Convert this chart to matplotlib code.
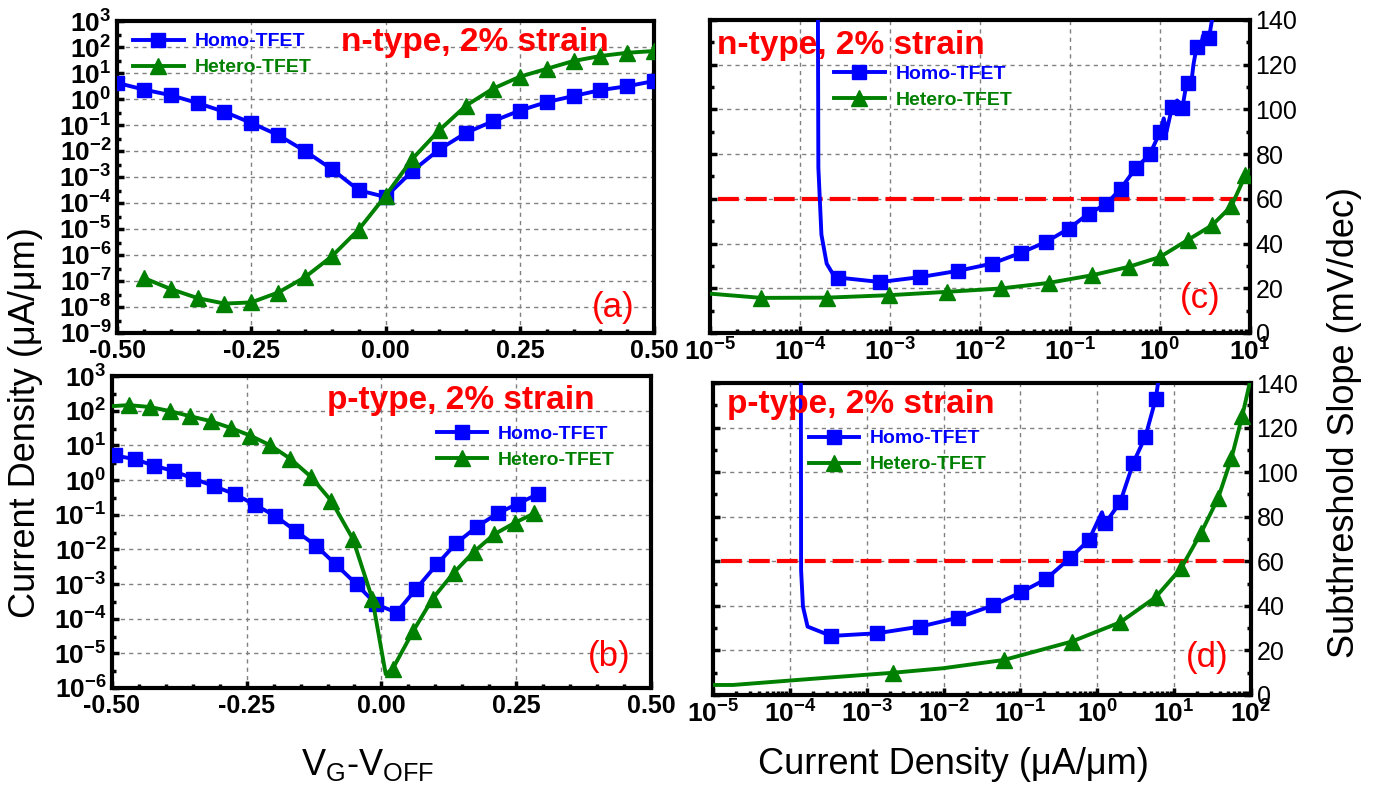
import numpy as np
import matplotlib
matplotlib.use('Agg')
import matplotlib.pyplot as plt
from matplotlib.ticker import FuncFormatter, LogLocator, MultipleLocator, NullFormatter

plt.rcParams['font.family'] = ['Liberation Sans', 'DejaVu Sans']
plt.rcParams['mathtext.fontset'] = 'custom'
plt.rcParams['mathtext.rm'] = 'Liberation Sans'
plt.rcParams['mathtext.bf'] = 'Liberation Sans:bold'
plt.rcParams['mathtext.it'] = 'Liberation Sans:italic'

# ---------------- data ----------------
# (a) n-type transfer curves
a_v_homo = [-0.50, -0.45, -0.40, -0.35, -0.30, -0.25, -0.20, -0.15, -0.10, -0.05, 0.00,
            0.05, 0.10, 0.15, 0.20, 0.25, 0.30, 0.35, 0.40, 0.45, 0.50]
a_i_homo = [4.2, 2.3, 1.4, 0.7, 0.32, 0.12, 0.041, 0.010, 0.002, 3.1e-4, 1.7e-4,
            1.7e-3, 0.0115, 0.05, 0.14, 0.36, 0.76, 1.3, 2.2, 3.1, 4.9]
a_v_het = [-0.45, -0.40, -0.35, -0.30, -0.25, -0.20, -0.15, -0.10, -0.05, 0.00,
           0.05, 0.10, 0.15, 0.20, 0.25, 0.30, 0.35, 0.40, 0.45, 0.50]
a_i_het = [1.3e-7, 4.9e-8, 2.2e-8, 1.35e-8, 1.5e-8, 3.6e-8, 1.4e-7, 8.9e-7, 9.5e-6, 1.9e-4,
           5e-3, 0.063, 0.56, 2.5, 7.2, 14.5, 29, 45, 60, 70]

# (b) p-type transfer curves
b_v_homo = [-0.494, -0.458, -0.422, -0.385, -0.349, -0.311, -0.272, -0.234, -0.197, -0.159, -0.121,
            -0.085, -0.046, -0.010, 0.028, 0.065, 0.103, 0.139, 0.177, 0.216, 0.254, 0.290]
b_i_homo = [5.1, 4.0, 2.6, 1.8, 1.1, 0.67, 0.39, 0.19, 0.092, 0.034, 0.0126,
            3.7e-3, 9.8e-4, 2.6e-4, 1.5e-4, 7.4e-4, 3.7e-3, 0.015, 0.045, 0.11, 0.21, 0.39]
b_v_het = [-0.500, -0.469, -0.430, -0.393, -0.356, -0.317, -0.280, -0.243, -0.206, -0.169, -0.131,
           -0.093, -0.053, -0.017, 0.008, 0.021, 0.059, 0.095, 0.134, 0.171, 0.209, 0.248, 0.284]
b_i_het = [135, 145, 128, 98, 70, 50, 32, 19, 10, 4.1, 1.25,
           0.25, 0.020, 3.8e-4, 2.5e-6, 3.6e-6, 4.4e-5, 3.8e-4, 2.1e-3, 8.3e-3, 0.027, 0.059, 0.11]
b_het_marks = [1, 2, 3, 4, 5, 6, 7, 8, 9, 10, 11, 12, 13, 15, 16, 17, 18, 19, 20, 21, 22]

# (c) n-type subthreshold slope vs current
c_i_homo = [1.58e-4, 1.60e-4, 1.73e-4, 1.98e-4, 2.35e-4,
            2.64e-4, 7.8e-4, 2.17e-3, 5.7e-3, 1.35e-2, 2.82e-2, 5.4e-2, 9.7e-2, 0.161, 0.252,
            0.366, 0.535, 0.77, 1.0, 1.1, 1.18, 1.36, 1.55, 1.65, 1.77, 1.9, 2.03, 2.2, 2.35,
            2.55, 2.75, 3.0, 3.5, 3.85]
c_ss_homo = [150, 74, 44, 31, 26,
             24.8, 22.8, 25.0, 27.8, 31.0, 35.8, 40.7, 46.7, 53.4, 57.6,
             64.6, 73.6, 79.9, 89.9, 96, 90, 101, 104, 99, 100.6, 108, 112, 110, 120,
             128, 126, 133, 132, 142]
c_homo_marks = [5, 6, 7, 8, 9, 10, 11, 12, 13, 14, 15, 16, 17, 18, 21, 24, 26, 29, 32]
c_i_het = [1e-5, 3.71e-5, 1.98e-4, 9.8e-4, 4.3e-3, 1.69e-2, 5.78e-2, 0.175, 0.45, 1.0,
           2.07, 3.79, 6.19, 8.9, 10.0]
c_ss_het = [17.6, 15.7, 15.8, 16.9, 18.4, 19.9, 22.4, 25.8, 29.6, 34.0,
            41.8, 48.2, 56.7, 70.6, 72.8]
c_het_marks = list(range(1, 14))

# (d) p-type subthreshold slope vs current
d_i_homo = [1.39e-4, 1.40e-4, 1.48e-4, 1.70e-4,
            3.44e-4, 1.36e-3, 4.98e-3, 1.55e-2, 4.40e-2, 0.103, 0.215, 0.436, 0.776,
            1.15, 1.27, 1.98, 2.95, 4.23, 5.75, 6.3]
d_ss_homo = [150, 56, 39.7, 30.7,
             26.5, 27.7, 30.7, 34.7, 40.2, 46.2, 52.0, 61.3, 69.5,
             82, 77.1, 86.4, 104.3, 116.0, 132.8, 142]
d_homo_marks = [4, 5, 6, 7, 8, 9, 10, 11, 12, 14, 15, 16, 17, 18]
d_i_het = [1e-5, 1.82e-5, 2.02e-4, 2.23e-3, 9.8e-3, 6.05e-2, 0.467, 1.98, 5.75, 12.3,
           22.5, 37.3, 55.7, 76.7, 97.7]
d_ss_het = [4.5, 4.5, 7.3, 10.0, 12.0, 15.7, 24.0, 32.6, 43.9, 56.9,
            72.9, 88.3, 106.3, 125.0, 141]
d_het_marks = [3, 5, 6, 7, 8, 9, 10, 11, 12, 13]

ss_limit = 60

# ---------------- style ----------------
BLUE = '#0000ff'
GREEN = '#008000'
RED = '#ff0000'
LW = 2.8
TICKFS = 18
LOGFS = 19
TITLEFS = 24
GRID = dict(color='#808080', linestyle=(0, (3, 3)), linewidth=1.0)

log_fmt = FuncFormatter(lambda v, _: r'$\mathbf{10^{%d}}$' % int(round(np.log10(v))))
lin_fmt = FuncFormatter(lambda v, _: '%.2f' % v)
int_fmt = FuncFormatter(lambda v, _: '%d' % v)

fig = plt.figure(figsize=(13.77, 7.87), dpi=100)
axa = fig.add_axes([0.0850, 0.5769, 0.3900, 0.3964])
axb = fig.add_axes([0.0813, 0.1258, 0.3914, 0.3964])
axc = fig.add_axes([0.5156, 0.5769, 0.3922, 0.3977])
axd = fig.add_axes([0.5178, 0.1169, 0.3907, 0.3964])


def frame(ax, logaxis):
    for s in ax.spines.values():
        s.set_linewidth(3)
    ax.tick_params(which='both', direction='in', width=2.5, labelsize=TICKFS)
    ax.tick_params(which='major', length=5, pad=4)
    ax.tick_params(which='minor', length=3)
    ax.tick_params(axis=logaxis, labelsize=LOGFS)
    for lab in ax.get_xticklabels() + ax.get_yticklabels():
        lab.set_fontweight('bold')


def plot_pair(ax, xh, yh, mh, xe, ye, me):
    ax.plot(xh, yh, color=BLUE, lw=LW, marker='s', ms=10, markevery=mh, label='Homo-TFET', zorder=3)
    ax.plot(xe, ye, color=GREEN, lw=LW, marker='^', ms=11, markevery=me, label='Hetero-TFET', zorder=3)


def add_legend(ax, anchor):
    return ax.legend(loc='upper left', bbox_to_anchor=anchor, frameon=False, borderpad=0,
                     borderaxespad=0, handlelength=2.6, handletextpad=0.55, labelspacing=0.43,
                     prop={'weight': 'bold', 'size': 14}, labelcolor='linecolor')


def iv_axes(ax, ymin):
    ax.set_yscale('log')
    ax.set_xlim(-0.5, 0.5)
    ax.set_ylim(ymin, 1e3)
    ax.yaxis.set_major_locator(LogLocator(base=10, numticks=20))
    ax.yaxis.set_minor_locator(LogLocator(base=10, subs=(3.0,), numticks=20))
    ax.yaxis.set_minor_formatter(NullFormatter())
    ax.yaxis.set_major_formatter(log_fmt)
    ax.xaxis.set_major_locator(MultipleLocator(0.25))
    ax.xaxis.set_minor_locator(MultipleLocator(0.05))
    ax.xaxis.set_major_formatter(lin_fmt)
    ax.grid(True, which='major', **GRID)
    frame(ax, 'y')


# ----- (a) -----
plot_pair(axa, a_v_homo, a_i_homo, None, a_v_het, a_i_het, None)
iv_axes(axa, 1e-9)
add_legend(axa, (0.03, 0.962))
axa.text(0.916, 0.93, 'n-type, 2% strain', transform=axa.transAxes, ha='right', va='center',
         color=RED, fontsize=TITLEFS, fontweight='bold')
axa.text(0.924, 0.083, '(a)', transform=axa.transAxes, ha='center', va='center', color=RED, fontsize=25)

# ----- (b) -----
plot_pair(axb, b_v_homo, b_i_homo, None, b_v_het, b_i_het, b_het_marks)
iv_axes(axb, 1e-6)
add_legend(axb, (0.603, 0.842))
axb.text(0.648, 0.92, 'p-type, 2% strain', transform=axb.transAxes, ha='center', va='center',
         color=RED, fontsize=TITLEFS, fontweight='bold')
axb.text(0.922, 0.10, '(b)', transform=axb.transAxes, ha='center', va='center', color=RED, fontsize=25)


def ss_axes(ax, xmax):
    ax.set_xscale('log')
    ax.set_xlim(1e-5, xmax)
    ax.set_ylim(0, 140)
    ax.xaxis.set_major_locator(LogLocator(base=10, numticks=20))
    ax.xaxis.set_minor_locator(LogLocator(base=10, subs=np.arange(2, 10), numticks=20))
    ax.xaxis.set_minor_formatter(NullFormatter())
    ax.xaxis.set_major_formatter(log_fmt)
    ax.yaxis.set_major_locator(MultipleLocator(20))
    ax.yaxis.set_minor_locator(MultipleLocator(10))
    ax.yaxis.set_major_formatter(int_fmt)
    ax.grid(True, which='major', **GRID)
    ax.axhline(ss_limit, xmin=0.015, xmax=1, color=RED, lw=3, dashes=(5, 1.7), zorder=2)
    frame(ax, 'x')
    ax.tick_params(which='both', left=True, right=True, labelleft=False, labelright=True)


# ----- (c) -----
plot_pair(axc, c_i_homo, c_ss_homo, c_homo_marks, c_i_het, c_ss_het, c_het_marks)
ss_axes(axc, 1e1)
add_legend(axc, (0.23, 0.855))
axc.text(0.013, 0.92, 'n-type, 2% strain', transform=axc.transAxes, ha='left', va='center',
         color=RED, fontsize=TITLEFS, fontweight='bold')
axc.text(0.907, 0.11, '(c)', transform=axc.transAxes, ha='center', va='center', color=RED, fontsize=25)

# ----- (d) -----
plot_pair(axd, d_i_homo, d_ss_homo, d_homo_marks, d_i_het, d_ss_het, d_het_marks)
ss_axes(axd, 1e2)
add_legend(axd, (0.178, 0.85))
axd.text(0.026, 0.93, 'p-type, 2% strain', transform=axd.transAxes, ha='left', va='center',
         color=RED, fontsize=TITLEFS, fontweight='bold')
axd.text(0.918, 0.12, '(d)', transform=axd.transAxes, ha='center', va='center', color=RED, fontsize=25)

# ----- shared axis labels -----
fig.text(26 / 1377, 1 - 423 / 787, 'Current Density (\u03bcA/\u03bcm)', rotation=90,
         ha='center', va='center', fontsize=26)
fig.text(368 / 1377, 1 - 765 / 787, r'V$_\mathrm{G}$-V$_\mathrm{OFF}$', ha='center', va='center', fontsize=26)
fig.text(953 / 1377, 1 - 765 / 787, 'Current Density (\u03bcA/\u03bcm)', ha='center', va='center', fontsize=26)
fig.text(1345 / 1377, 1 - 422 / 787, 'Subthreshold Slope (mV/dec)', rotation=90,
         ha='center', va='center', fontsize=26)

fig.savefig('out.png', dpi=100)
